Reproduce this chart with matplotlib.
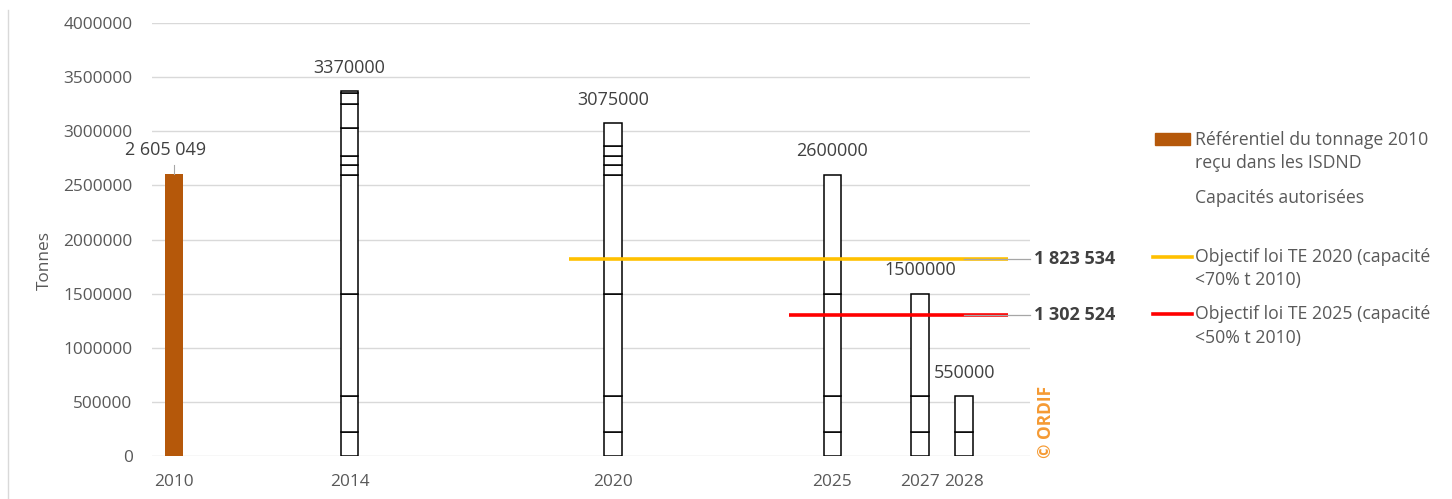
import numpy as np
import matplotlib
matplotlib.use('Agg')
import matplotlib.pyplot as plt
from matplotlib.patches import Rectangle
from matplotlib.lines import Line2D

plt.rcParams['font.family'] = ['Open Sans', 'DejaVu Sans']

# ---------- données ----------
ref_year = 2010
ref_tonnage = 2605049

cap_years = [2014, 2020, 2025, 2027, 2028]
# capacités autorisées par installation (empilées)
cap_segments = [
    [220000, 330000, 950000, 1100000, 90000, 85000, 255000, 220000, 100000, 20000],
    [220000, 330000, 950000, 1100000, 90000, 85000, 90000, 210000],
    [220000, 330000, 950000, 1100000],
    [220000, 330000, 950000],
    [220000, 330000],
]

obj_2020_years = [2019, 2029]
obj_2020 = 1823534
obj_2025_years = [2024, 2029]
obj_2025 = 1302524

yticks = [0, 500000, 1000000, 1500000, 2000000, 2500000, 3000000, 3500000, 4000000]
xticks = [2010, 2014, 2020, 2025, 2027, 2028]

legend_lines = [
    ['Référentiel du tonnage 2010', 'reçu dans les ISDND'],
    ['Capacités autorisées'],
    ['Objectif loi TE 2020 (capacité', '<70% t 2010)'],
    ['Objectif loi TE 2025 (capacité', '<50% t 2010)'],
]

BROWN = '#B5580A'
YELLOW = '#FFC000'
RED = '#FF0000'
GREY_TXT = '#595959'
DARK_TXT = '#404040'
GRID = '#D9D9D9'

W, H = 1452, 499
fig = plt.figure(figsize=(W / 100, H / 100), dpi=100)
ax = fig.add_axes([152 / W, 1 - 456 / H, (1030 - 152) / W, (456 - 23) / H])


def fmt_space(v):
    return f"{v:,}".replace(',', ' ')


# barre de référence 2010
ax.bar(ref_year, ref_tonnage, width=0.4, color=BROWN, zorder=3)
ax.plot([ref_year, ref_year], [ref_tonnage, ref_tonnage + 80000], color='#A6A6A6', lw=0.8, zorder=3)
ax.annotate(fmt_space(ref_tonnage), (ref_year - 0.18, ref_tonnage), xytext=(0, 17),
            textcoords='offset points', ha='center', va='center', fontsize=13, color=DARK_TXT)

# capacités autorisées, segments empilés
for year, segs in zip(cap_years, cap_segments):
    bottom = 0
    for s in segs:
        ax.bar(year, s, bottom=bottom, width=0.4, facecolor='white', edgecolor='black',
               linewidth=1.1, zorder=3)
        bottom += s
    ax.annotate(f"{bottom}", (year, bottom), xytext=(0, 17), textcoords='offset points',
                ha='center', va='center', fontsize=13, color=DARK_TXT)

# objectifs loi TE
for yrs, val, col in [(obj_2020_years, obj_2020, YELLOW), (obj_2025_years, obj_2025, RED)]:
    ax.plot(yrs, [val, val], color=col, lw=2.6, zorder=4, solid_capstyle='butt')
    ax.plot([2028, 2029.5], [val, val], color='#A6A6A6', lw=0.9, zorder=5, clip_on=False)
    ax.annotate(fmt_space(val), (2029.5, val), xytext=(3, 0), textcoords='offset points',
                ha='left', va='center', fontsize=13, fontweight='bold', color=DARK_TXT,
                annotation_clip=False)

ax.set_xlim(2009.5, 2029.5)
ax.set_ylim(0, 4000000)
ax.set_yticks(yticks)
ax.set_yticklabels([str(v) for v in yticks])
ax.set_xticks(xticks)
ax.set_xticklabels([str(v) for v in xticks])
ax.tick_params(axis='y', length=0, pad=14, labelsize=12.4, labelcolor=GREY_TXT)
ax.tick_params(axis='x', length=0, pad=13, labelsize=12.4, labelcolor=GREY_TXT)
ax.grid(axis='y', color=GRID, lw=1, zorder=0)
ax.set_axisbelow(True)
for sp in ax.spines.values():
    sp.set_visible(False)

# ---------- surcouche : titre d'axe, légende, crédit ----------
ov = fig.add_axes([0, 0, 1, 1], facecolor='none')
ov.set_xlim(0, W)
ov.set_ylim(H, 0)
ov.axis('off')

ov.add_line(Line2D([8, 8], [10, H], color=GRID, lw=1))
ov.text(45, 260, 'Tonnes', rotation=90, ha='center', va='center', fontsize=12.4, color=GREY_TXT)
ov.text(1046, 422, '© ORDIF', rotation=90, ha='center', va='center', fontsize=12.5,
        fontweight='bold', color='#F59A33')

ov.add_patch(Rectangle((1155, 133), 35, 12, color=BROWN))
ov.add_line(Line2D([1153, 1192], [257, 257], color=YELLOW, lw=2.6))
ov.add_line(Line2D([1153, 1192], [314, 314], color=RED, lw=2.6))

legend_y = [140, 198, 257, 314]
for y0, lines in zip(legend_y, legend_lines):
    for i, line in enumerate(lines):
        ov.text(1195, y0 + i * 23.5, line, ha='left', va='center', fontsize=12.7, color=GREY_TXT)

fig.savefig('out.png', dpi=100)
